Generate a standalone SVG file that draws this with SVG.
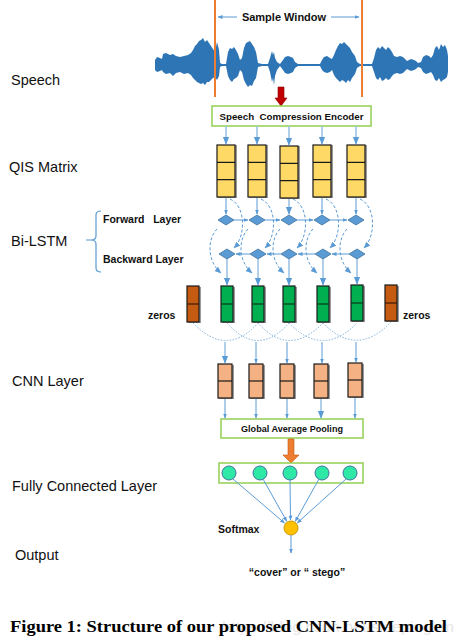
<svg xmlns="http://www.w3.org/2000/svg" width="462" height="638" viewBox="0 0 462 638">
<defs>
<style>
.lbl{font-family:"Liberation Sans",Arial,sans-serif;font-size:14.5px;fill:#111}
.b{font-family:"Liberation Sans",Arial,sans-serif;font-weight:bold;fill:#111;white-space:pre}
.ln{stroke:#5b9bd5;stroke-width:1;fill:none}
.ln2{stroke:#9dc3e6;stroke-width:1.6;fill:none}
.dash{stroke:#5b9bd5;stroke-width:1;fill:none;stroke-dasharray:3 2}
.dot{stroke:#7fb0de;stroke-width:1;fill:none;stroke-dasharray:1.5 1.5}
.gbox{fill:#fff;stroke:#92d050;stroke-width:1.5}
.qis{fill:#ffd966;stroke:#1a1a1a;stroke-width:1.2}
.grn{fill:#00b050;stroke:#1a1a1a;stroke-width:1.2}
.zer{fill:#c55a11;stroke:#1a1a1a;stroke-width:1.2}
.cnn{fill:#f4b183;stroke:#1a1a1a;stroke-width:1.2}
.sh{fill:#9a9a9a}
.dia{fill:#5b9bd5;stroke:#41719c;stroke-width:0.8}
.fc{fill:#2ee8a6;stroke:#41719c;stroke-width:1}
</style>
<marker id="ah" viewBox="0 0 10 10" refX="9" refY="5" markerWidth="5" markerHeight="5" orient="auto"><path d="M0,1 L10,5 L0,9 z" fill="#5b9bd5"/></marker>
<marker id="ahL" viewBox="0 0 10 10" refX="9" refY="5" markerWidth="7" markerHeight="7" orient="auto"><path d="M0,1 L10,5 L0,9 z" fill="#5b9bd5"/></marker>
</defs>
<rect width="462" height="638" fill="#fff"/>

<!-- Left labels -->
<g id="labels">
<text class="lbl" x="11" y="85">Speech</text>
<text class="lbl" x="9" y="172">QIS Matrix</text>
<text class="lbl" x="11" y="246">Bi-LSTM</text>
<text class="lbl" x="12" y="386">CNN Layer</text>
<text class="lbl" x="12" y="491">Fully Connected Layer</text>
<text class="lbl" x="15" y="560">Output</text>
<path d="M101 211 Q96 211 96 215 L96 236 Q96 240 91 240 Q96 240 96 244 L96 268 Q96 272 101 272 M86 240 L93 240" stroke="#5b9bd5" stroke-width="1.2" fill="none"/>
<text class="b" x="103" y="223" font-size="10.5">Forward   Layer</text>
<text class="b" x="103" y="263" font-size="10.5">Backward Layer</text>
</g>

<!-- Speech waveform and sample window -->
<g id="speech">
<polygon fill="#2e75b6" points="155,60 157,57 160,58 162,59 163,54 166,53 170,55 173,54 176,56 180,57 184,56 188,55 191,53 193,50 195,46 197,44 199,41 201,40 203,38 205,42 207,40 209,43 211,46 213,49 215,52 217,42 219,50 220,63 222,64 226,64 228,52 230,48 232,49 234,47 236,50 238,54 240,60 242,58 244,48 246,43 248,42 250,41 252,44 254,47 256,52 258,63 262,64 268,64 270,58 272,51 273,55 274,52 275,58 277,62 280,64 283,60 285,57 288,56 291,57 293,58 295,62 298,64 320,64 322,60 324,57 327,56 330,58 332,59 334,55 336,50 338,46 340,43 342,44 344,42 346,44 348,46 350,48 352,52 355,56 357,62 360,64 372,64 374,58 376,50 378,47 380,49 382,46 384,48 386,50 388,47 390,49 392,52 394,56 397,57 400,56 403,57 405,59 407,61 409,60 411,59 414,60 416,61 418,63 421,62 423,57 426,55 429,56 431,58 433,55 435,48 437,46 439,50 441,44 443,47 445,45 447,50 448,56 448,72 447,77 445,79 443,80 441,82 439,78 437,81 435,80 433,75 431,72 429,73 426,74 423,72 421,68 418,67 416,69 414,70 411,71 409,70 407,69 405,71 403,73 400,74 397,73 394,74 392,76 390,79 388,80 386,78 384,80 382,81 380,77 378,80 376,78 374,72 372,66 360,66 357,68 355,74 352,78 350,82 348,80 346,83 344,81 342,80 340,82 338,80 336,78 334,75 332,70 330,72 327,73 324,72 322,70 320,66 298,66 295,68 293,72 291,73 288,74 285,73 283,70 280,66 277,70 275,76 274,85 273,78 272,82 270,72 268,66 262,66 258,67 256,78 254,81 252,86 250,85 248,87 246,84 244,80 242,72 240,70 238,76 236,78 234,79 232,82 230,80 228,76 226,66 222,66 220,67 219,76 217,80 215,77 213,78 211,80 209,82 207,82 205,85 203,83 201,84 199,83 197,82 195,80 193,78 191,75 188,73 184,74 180,72 176,73 173,76 170,73 166,74 163,72 162,70 160,71 157,72 155,70"/>
<line x1="215" y1="0" x2="215" y2="97" stroke="#ed7d31" stroke-width="2"/>
<line x1="362" y1="0" x2="362" y2="97" stroke="#ed7d31" stroke-width="2"/>
<text class="b" x="284" y="21" font-size="11" text-anchor="middle">Sample Window</text>
<line class="ln" x1="237" y1="17" x2="218" y2="17" marker-end="url(#ah)"/>
<line class="ln" x1="331" y1="17" x2="359" y2="17" marker-end="url(#ah)"/>
<path d="M278 87 L284 87 L284 98 L287 98 L281 106 L275 98 L278 98 Z" fill="#c00000" stroke="#8b0000" stroke-width="0.6"/>
</g>

<g id="encoder">
<rect class="gbox" x="212" y="106" width="159" height="20"/>
<text class="b" x="291.5" y="120" font-size="9.8" text-anchor="middle" textLength="144" lengthAdjust="spacingAndGlyphs">Speech  Compression Encoder</text>
</g>

<!-- QIS columns -->
<g id="qis">
<rect class="sh" x="218" y="145" width="19" height="53"/><rect class="qis" x="217" y="145" width="18" height="52"/><path d="M217 162.3 H235 M217 179.7 H235" stroke="#1a1a1a" stroke-width="1.2"/>
<rect class="sh" x="249" y="145" width="19" height="53"/><rect class="qis" x="248" y="145" width="18" height="52"/><path d="M248 162.3 H266 M248 179.7 H266" stroke="#1a1a1a" stroke-width="1.2"/>
<rect class="sh" x="281" y="146" width="19" height="53"/><rect class="qis" x="280" y="146" width="18" height="52"/><path d="M280 163.3 H298 M280 180.7 H298" stroke="#1a1a1a" stroke-width="1.2"/>
<rect class="sh" x="314" y="145" width="19" height="53"/><rect class="qis" x="313" y="145" width="18" height="52"/><path d="M313 162.3 H331 M313 179.7 H331" stroke="#1a1a1a" stroke-width="1.2"/>
<rect class="sh" x="348" y="145" width="19" height="53"/><rect class="qis" x="347" y="145" width="18" height="52"/><path d="M347 162.3 H365 M347 179.7 H365" stroke="#1a1a1a" stroke-width="1.2"/>
</g>

<!-- Bi-LSTM diamonds -->
<g id="forward">
<polygon class="dia" points="218,220 226,215 234,220 226,225"/>
<polygon class="dia" points="249,220 257,215 265,220 257,225"/>
<polygon class="dia" points="281,220 289,215 297,220 289,225"/>
<polygon class="dia" points="314,220 322,215 330,220 322,225"/>
<polygon class="dia" points="348,220 356,215 364,220 356,225"/>
</g>
<g id="backward">
<polygon class="dia" points="219,254 227,249 235,254 227,259"/>
<polygon class="dia" points="250,254 258,249 266,254 258,259"/>
<polygon class="dia" points="281,254 289,249 297,254 289,259"/>
<polygon class="dia" points="315,254 323,249 331,254 323,259"/>
<polygon class="dia" points="349,254 357,249 365,254 357,259"/>
</g>

<!-- Concatenation columns -->
<g id="concat">
<rect class="sh" x="188" y="287" width="13" height="36"/><rect class="zer" x="187" y="286" width="12" height="36"/><line x1="187" y1="304" x2="199" y2="304" stroke="#3a1a05" stroke-width="1.2"/>
<rect class="sh" x="222" y="287" width="13" height="36"/><rect class="grn" x="221" y="286" width="12" height="36"/><line x1="221" y1="304" x2="233" y2="304" stroke="#0a3a1a" stroke-width="1.2"/>
<rect class="sh" x="253" y="287" width="13" height="36"/><rect class="grn" x="252" y="286" width="12" height="36"/><line x1="252" y1="304" x2="264" y2="304" stroke="#0a3a1a" stroke-width="1.2"/>
<rect class="sh" x="284" y="287" width="13" height="36"/><rect class="grn" x="283" y="286" width="12" height="36"/><line x1="283" y1="304" x2="295" y2="304" stroke="#0a3a1a" stroke-width="1.2"/>
<rect class="sh" x="318" y="287" width="13" height="36"/><rect class="grn" x="317" y="286" width="12" height="36"/><line x1="317" y1="304" x2="329" y2="304" stroke="#0a3a1a" stroke-width="1.2"/>
<rect class="sh" x="352" y="286" width="13" height="36"/><rect class="grn" x="351" y="285" width="12" height="36"/><line x1="351" y1="303" x2="363" y2="303" stroke="#0a3a1a" stroke-width="1.2"/>
<rect class="sh" x="386" y="286" width="13" height="36"/><rect class="zer" x="385" y="285" width="12" height="36"/><line x1="385" y1="303" x2="397" y2="303" stroke="#3a1a05" stroke-width="1.2"/>
<text class="b" x="148" y="319" font-size="10.5">zeros</text>
<text class="b" x="403" y="319" font-size="10.5">zeros</text>
</g>

<!-- CNN boxes -->
<g id="cnn">
<rect class="sh" x="219" y="365" width="15" height="34"/><rect class="cnn" x="218" y="364" width="14" height="34"/><line x1="218" y1="381" x2="232" y2="381" stroke="#1a1a1a" stroke-width="1.2"/>
<rect class="sh" x="250" y="365" width="15" height="34"/><rect class="cnn" x="249" y="364" width="14" height="34"/><line x1="249" y1="381" x2="263" y2="381" stroke="#1a1a1a" stroke-width="1.2"/>
<rect class="sh" x="281" y="365" width="15" height="34"/><rect class="cnn" x="280" y="364" width="14" height="34"/><line x1="280" y1="381" x2="294" y2="381" stroke="#1a1a1a" stroke-width="1.2"/>
<rect class="sh" x="315" y="365" width="15" height="34"/><rect class="cnn" x="314" y="364" width="14" height="34"/><line x1="314" y1="381" x2="328" y2="381" stroke="#1a1a1a" stroke-width="1.2"/>
<rect class="sh" x="349" y="364" width="15" height="34"/><rect class="cnn" x="348" y="363" width="14" height="34"/><line x1="348" y1="380" x2="362" y2="380" stroke="#1a1a1a" stroke-width="1.2"/>
</g>

<g id="gap">
<rect class="gbox" x="221" y="419" width="142" height="19"/>
<text class="b" x="292" y="432" font-size="9.5" text-anchor="middle" textLength="102" lengthAdjust="spacingAndGlyphs">Global Average Pooling</text>
<path d="M288 439 L294 439 L294 455 L299 455 L291 463 L283 455 L288 455 Z" fill="#ed7d31" stroke="#c55a11" stroke-width="0.6"/>
</g>

<g id="fc">
<rect class="gbox" x="219" y="463" width="144" height="20"/>
<circle class="fc" cx="229" cy="473" r="7"/>
<circle class="fc" cx="260" cy="473" r="7"/>
<circle class="fc" cx="290" cy="473" r="7"/>
<circle class="fc" cx="322" cy="473" r="7"/>
<circle class="fc" cx="350" cy="473" r="7"/>
</g>

<g id="softmax">
<circle cx="291" cy="528" r="7" fill="#ffc000" stroke="#c79800" stroke-width="1"/>
<text class="b" x="218" y="533" font-size="10.5">Softmax</text>
</g>

<g id="output">
<text class="b" x="297" y="576" font-size="10.5" text-anchor="middle">“cover” or “ stego”</text>
</g>

<!-- Connectors -->
<g id="connectors">
<!-- encoder to QIS -->
<line class="ln2" x1="226" y1="126" x2="226" y2="144" marker-end="url(#ah)"/>
<line class="ln2" x1="257" y1="126" x2="257" y2="144" marker-end="url(#ah)"/>
<line class="ln2" x1="289" y1="126" x2="289" y2="145" marker-end="url(#ah)"/>
<line class="ln2" x1="322" y1="126" x2="322" y2="144" marker-end="url(#ah)"/>
<line class="ln2" x1="356" y1="126" x2="356" y2="144" marker-end="url(#ah)"/>
<!-- QIS to forward -->
<line class="ln" x1="226" y1="198" x2="226" y2="214" marker-end="url(#ah)"/>
<line class="ln" x1="257" y1="198" x2="257" y2="214" marker-end="url(#ah)"/>
<line class="ln2" x1="289" y1="199" x2="289" y2="214" marker-end="url(#ah)"/>
<line class="ln" x1="322" y1="198" x2="322" y2="214" marker-end="url(#ah)"/>
<line class="ln" x1="356" y1="198" x2="356" y2="214" marker-end="url(#ah)"/>
<!-- forward horizontal -->
<line class="ln" x1="234" y1="220" x2="248" y2="220" marker-end="url(#ah)"/>
<line class="ln" x1="265" y1="220" x2="280" y2="220" marker-end="url(#ah)"/>
<line class="ln" x1="297" y1="220" x2="313" y2="220" marker-end="url(#ah)"/>
<line class="ln" x1="330" y1="220" x2="347" y2="220" marker-end="url(#ah)"/>
<!-- backward horizontal -->
<line class="ln" x1="250" y1="254" x2="236" y2="254" marker-end="url(#ah)"/>
<line class="ln" x1="281" y1="254" x2="267" y2="254" marker-end="url(#ah)"/>
<line class="ln" x1="315" y1="254" x2="298" y2="254" marker-end="url(#ah)"/>
<line class="ln" x1="349" y1="254" x2="332" y2="254" marker-end="url(#ah)"/>
<!-- QIS to backward (dashed) -->
<path class="dash" d="M230 199 C246 206 246 236 234 248" marker-end="url(#ahL)"/>
<path class="dash" d="M261 199 C277 206 277 236 265 248" marker-end="url(#ahL)"/>
<path class="dash" d="M293 199 C309 206 309 236 297 248" marker-end="url(#ahL)"/>
<path class="dash" d="M326 199 C342 206 342 236 330 248" marker-end="url(#ahL)"/>
<path class="dash" d="M360 199 C376 206 376 236 364 248" marker-end="url(#ahL)"/>
<!-- forward to concat (dashed) -->
<path class="dash" d="M217 229 C208 238 206 260 221 273" marker-end="url(#ahL)"/>
<path class="dash" d="M248 229 C239 238 237 260 252 273" marker-end="url(#ahL)"/>
<path class="dash" d="M280 229 C271 238 269 260 284 273" marker-end="url(#ahL)"/>
<path class="dash" d="M313 229 C304 238 302 260 317 273" marker-end="url(#ahL)"/>
<path class="dash" d="M347 229 C338 238 336 260 351 273" marker-end="url(#ahL)"/>
<!-- backward to concat -->
<line class="ln2" x1="227" y1="259" x2="227" y2="285" marker-end="url(#ah)"/>
<line class="ln2" x1="258" y1="259" x2="258" y2="285" marker-end="url(#ah)"/>
<line class="ln2" x1="289" y1="259" x2="289" y2="285" marker-end="url(#ah)"/>
<line class="ln2" x1="323" y1="259" x2="323" y2="285" marker-end="url(#ah)"/>
<line class="ln2" x1="357" y1="259" x2="357" y2="284" marker-end="url(#ah)"/>
<!-- convolution windows -->
<path class="dot" d="M193 323 Q227 358 258 323"/>
<path class="dot" d="M227 323 Q258 358 289 323"/>
<path class="dot" d="M258 323 Q289 358 323 323"/>
<path class="dot" d="M289 323 Q323 358 357 323"/>
<path class="dot" d="M323 323 Q357 358 391 322"/>
<!-- to CNN -->
<line class="ln2" x1="225" y1="342" x2="225" y2="363" marker-end="url(#ah)"/>
<line class="ln" x1="256" y1="342" x2="256" y2="363" marker-end="url(#ah)"/>
<line class="ln" x1="287" y1="342" x2="287" y2="363" marker-end="url(#ah)"/>
<line class="ln" x1="322" y1="342" x2="322" y2="363" marker-end="url(#ah)"/>
<line class="ln" x1="356" y1="342" x2="356" y2="362" marker-end="url(#ah)"/>
<!-- CNN to GAP -->
<line class="ln" x1="225" y1="399" x2="225" y2="418" marker-end="url(#ah)"/>
<line class="ln" x1="256" y1="399" x2="256" y2="418" marker-end="url(#ah)"/>
<line class="ln" x1="287" y1="399" x2="287" y2="418" marker-end="url(#ah)"/>
<line class="ln2" x1="321" y1="399" x2="321" y2="418" marker-end="url(#ah)"/>
<line class="ln" x1="355" y1="398" x2="355" y2="418" marker-end="url(#ah)"/>
<!-- FC to softmax -->
<line class="ln" x1="233" y1="479" x2="284.5" y2="523" marker-end="url(#ah)"/>
<line class="ln" x1="263" y1="479" x2="286.7" y2="521.3" marker-end="url(#ah)"/>
<line class="ln" x1="290" y1="480" x2="290.5" y2="520" marker-end="url(#ah)"/>
<line class="ln" x1="319" y1="479" x2="295.3" y2="521.3" marker-end="url(#ah)"/>
<line class="ln" x1="346" y1="479" x2="297.2" y2="523" marker-end="url(#ah)"/>
<line class="ln" x1="291" y1="535" x2="291" y2="553" marker-end="url(#ah)"/>
</g>

<g id="caption">
<text x="222" y="632" font-family="Liberation Sans,Arial,sans-serif" font-size="15" fill="#e6e6e6" textLength="232" lengthAdjust="spacingAndGlyphs">https://blog.csdn.net/sleepinghm</text>
<text x="10" y="632" font-family="Liberation Serif,Times New Roman,serif" font-weight="bold" font-size="17" fill="#000" textLength="437" lengthAdjust="spacingAndGlyphs">Figure 1: Structure of our proposed CNN-LSTM model</text>
</g>
</svg>
